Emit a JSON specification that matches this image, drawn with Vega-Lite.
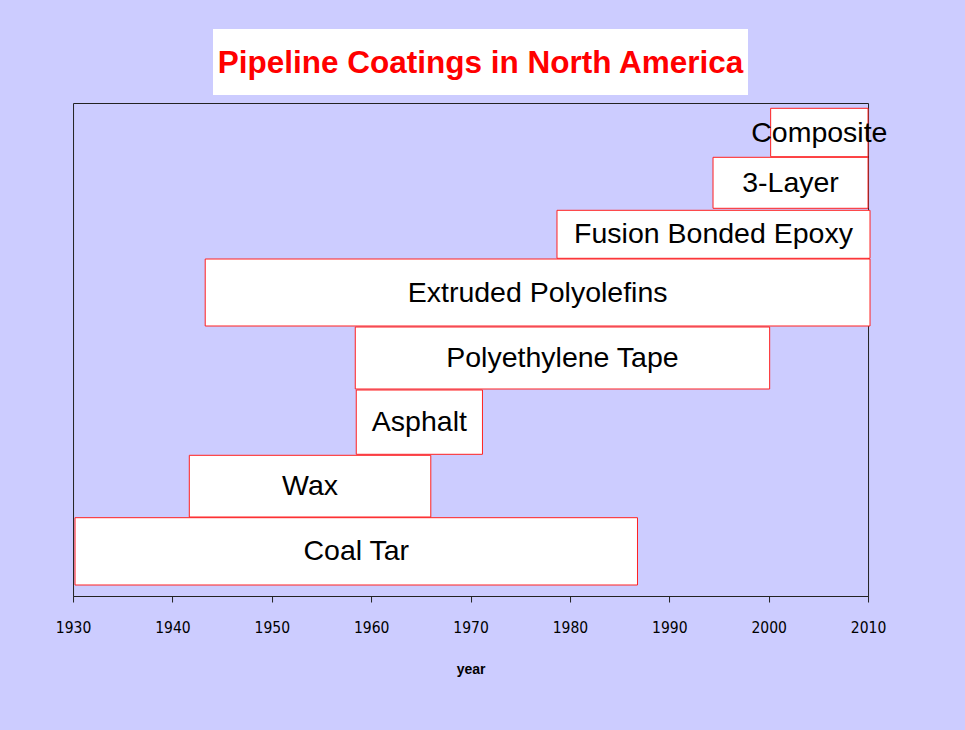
{
  "$schema": "https://vega.github.io/schema/vega-lite/v6.json",
  "background": "#CCCCFF",
  "padding": {"top": 29, "left": 54, "right": 88, "bottom": 58},
  "spacing": 7,
  "center": true,
  "config": {
    "font": "Liberation Sans",
    "concat": {"spacing": 7}
  },
  "vconcat": [
    {
      "width": 535,
      "height": 66,
      "view": {"fill": "white", "stroke": null},
      "data": {"values": [{"t": "Pipeline Coatings in North America"}]},
      "mark": {"type": "text", "fontSize": 31.5, "fontWeight": "bold", "color": "#FF0000", "font": "Liberation Sans", "align": "center", "baseline": "middle", "dy": 2},
      "encoding": {"text": {"field": "t"}}
    },
    {
      "width": 795,
      "height": 493,
      "view": {"stroke": "#222222", "strokeWidth": 1},
      "data": {"values": [
        {"coating": "Coal Tar", "start": 1930.2, "end": 1986.8, "low": 11, "high": 78.3},
        {"coating": "Wax", "start": 1941.7, "end": 1966.0, "low": 79, "high": 140.7},
        {"coating": "Asphalt", "start": 1958.5, "end": 1971.2, "low": 141.7, "high": 206},
        {"coating": "Polyethylene Tape", "start": 1958.4, "end": 2000.1, "low": 207, "high": 269},
        {"coating": "Extruded Polyolefins", "start": 1943.3, "end": 2010.2, "low": 270, "high": 337},
        {"coating": "Fusion Bonded Epoxy", "start": 1978.7, "end": 2010.2, "low": 337.7, "high": 385.7},
        {"coating": "3-Layer", "start": 1994.4, "end": 2010.0, "low": 387.7, "high": 438.7},
        {"coating": "Composite", "start": 2000.2, "end": 2010.0, "low": 439.3, "high": 487.7}
      ]},
      "layer": [
        {
          "mark": {"type": "rect", "fill": "white", "stroke": "#FF2020", "strokeWidth": 1},
          "encoding": {
            "x": {"field": "start", "type": "quantitative",
              "scale": {"domain": [1930, 2010], "nice": false, "zero": false},
              "axis": {"title": "year", "values": [1930, 1940, 1950, 1960, 1970, 1980, 1990, 2000, 2010],
                "format": "d", "grid": false, "labelFlush": false, "domainColor": "#222222", "tickColor": "#222222", "tickSize": 6,
                "labelFont": "DejaVu Sans Condensed, Liberation Sans", "labelFontSize": 15.5, "labelColor": "black", "labelPadding": 18,
                "titleFont": "Liberation Sans", "titleFontSize": 14, "titleFontWeight": "bold", "titleColor": "black", "titlePadding": 27}},
            "x2": {"field": "end"},
            "y": {"field": "low", "type": "quantitative", "scale": {"domain": [0, 493], "nice": false}, "axis": null},
            "y2": {"field": "high"}
          }
        },
        {
          "transform": [
            {"fold": ["start", "end"], "as": ["xk", "xv"]},
            {"fold": ["low", "high"], "as": ["yk", "yv"]},
            {"aggregate": [{"op": "mean", "field": "xv", "as": "xmid"}, {"op": "mean", "field": "yv", "as": "ymid"}], "groupby": ["coating"]}
          ],
          "mark": {"type": "text", "fontSize": 28.5, "color": "black", "font": "Liberation Sans", "align": "center", "baseline": "middle"},
          "encoding": {
            "x": {"field": "xmid", "type": "quantitative"},
            "y": {"field": "ymid", "type": "quantitative"},
            "text": {"field": "coating"}
          }
        }
      ]
    }
  ]
}
